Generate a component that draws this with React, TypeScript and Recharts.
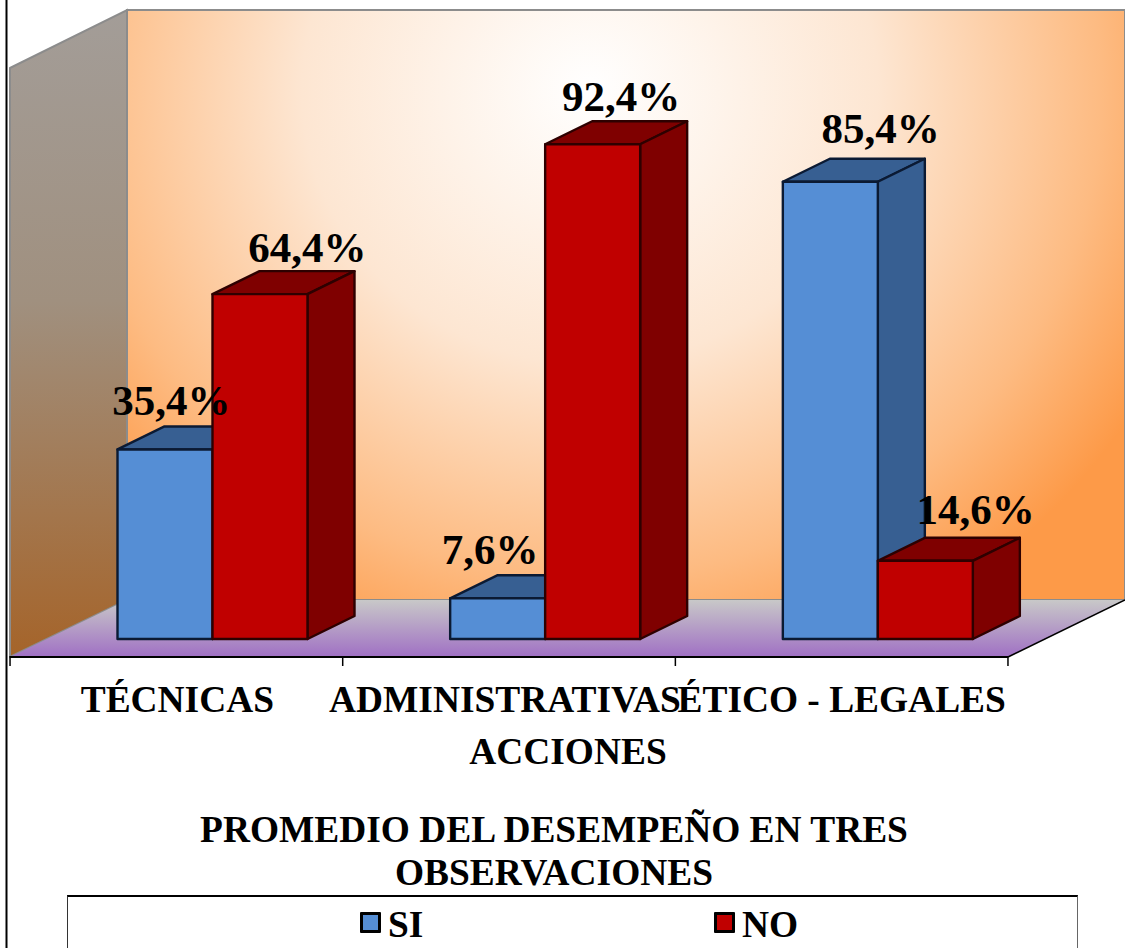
import { ComposedChart, Bar, Line, XAxis, YAxis, Legend, Customized } from 'recharts';

const FONT = '"Liberation Serif", serif';

const categories = ['TÉCNICAS', 'ADMINISTRATIVAS', 'ÉTICO - LEGALES'];
const siValues = [35.4, 7.6, 85.4];
const noValues = [64.4, 92.4, 14.6];

const data = categories.map((name, i) => ({ name, SI: siValues[i], NO: noValues[i] }));

// label nudges
const siLabelOffset = [[-5, -33], [-19, -33], [39, -38]];
const noLabelOffset = [[131, -31], [112, -32], [134, -36]];
const tickNudge = [1, -4, 0];

// the 3D look: bars sit back from the front edge of the floor
const SHIFT_X = 36;
const SHIFT_Y = -18;
const DEPTH_X = 47;
const DEPTH_Y = -23;

const fmt = (v: number) => v.toFixed(1).replace('.', ',') + '%';

function Box3D(props: any) {
  const { width, height, fill, side, edge } = props;
  const x = props.x + SHIFT_X;
  const y = props.y + SHIFT_Y;
  const r = x + width;
  const b = y + height;
  return (
    <g stroke={edge} strokeWidth={2.4} strokeLinejoin="round">
      <polygon points={`${x},${y} ${x + DEPTH_X},${y + DEPTH_Y} ${r + DEPTH_X},${y + DEPTH_Y} ${r},${y}`} fill={side} />
      <polygon points={`${r},${y} ${r + DEPTH_X},${y + DEPTH_Y} ${r + DEPTH_X},${b + DEPTH_Y} ${r},${b}`} fill={side} />
      <rect x={x} y={y} width={width} height={height} fill={fill} />
    </g>
  );
}

function Walls() {
  return (
    <g>
      <defs>
        <radialGradient id="backWall" gradientUnits="userSpaceOnUse" cx={590} cy={90} r={640} gradientTransform="translate(590 90) scale(1 0.95) translate(-590 -90)">
          <stop offset="0" stopColor="#FFFFFF" />
          <stop offset="0.45" stopColor="#FDE6D2" />
          <stop offset="0.8" stopColor="#FDBB82" />
          <stop offset="1" stopColor="#FD9A48" />
        </radialGradient>
        <linearGradient id="sideWall" x1="0" y1="0" x2="0" y2="1">
          <stop offset="0" stopColor="#A39D98" />
          <stop offset="0.45" stopColor="#A0907F" />
          <stop offset="1" stopColor="#A5642A" />
        </linearGradient>
        <linearGradient id="floor" x1="0" y1="0" x2="0" y2="1">
          <stop offset="0" stopColor="#C8C8C8" />
          <stop offset="1" stopColor="#A070C4" />
        </linearGradient>
      </defs>
      <line x1={6.5} y1={0} x2={6.5} y2={948} stroke="#000" strokeWidth={2} />
      <rect x={127} y={10} width={998} height={590} fill="url(#backWall)" stroke="#8C8C8C" strokeWidth={2} />
      <polygon points="10,68 127,10 127,600 10,657" fill="url(#sideWall)" stroke="#8C8C8C" strokeWidth={2} />
      <polygon points="10,657 127,600 1125,600 1008,657" fill="url(#floor)" />
      <line x1={1008} y1={657} x2={1125} y2={600} stroke="#000" strokeWidth={1.5} />
      <text x={554} y={842} textAnchor="middle" fontFamily={FONT} fontWeight="bold" fontSize={37.4} fill="#000">
        PROMEDIO DEL DESEMPEÑO EN TRES
      </text>
      <text x={554} y={885} textAnchor="middle" fontFamily={FONT} fontWeight="bold" fontSize={37.4} fill="#000">
        OBSERVACIONES
      </text>
    </g>
  );
}

function CategoryTick(props: any) {
  const { x, payload, index } = props;
  const half = 166.3;
  return (
    <g>
      <line x1={x - half} y1={656} x2={x - half} y2={666} stroke="#000" strokeWidth={1.5} />
      {index === categories.length - 1 && <line x1={x + half} y1={656} x2={x + half} y2={666} stroke="#000" strokeWidth={1.5} />}
      <text x={x + tickNudge[index]} y={712} textAnchor="middle" fontFamily={FONT} fontWeight="bold" fontSize={37.4} fill="#000">
        {payload.value}
      </text>
    </g>
  );
}

function makeValueLabel(offsets: number[][]) {
  return (props: any) => {
    const { x, y, value, index } = props;
    const [dx, dy] = offsets[index];
    return (
      <text key={index} x={x + dx} y={y - 19 + dy} textAnchor="middle" fontFamily={FONT} fontWeight="bold" fontSize={43} fill="#000">
        {fmt(value)}
      </text>
    );
  };
}

function LegendBox({ payload }: any) {
  const names = ['SI', 'NO'];
  const lefts = [292, 646];
  const items = names.map((n) => (payload || []).find((p: any) => p.value === n)).filter(Boolean);
  return (
    <div style={{ position: 'relative', width: 1011, height: 60, boxSizing: 'border-box', borderTop: '2px solid #000', borderLeft: '1.5px solid #333', borderRight: '1.5px solid #666' }}>
      {items.map((item: any, i: number) => (
        <div key={item.value} style={{ position: 'absolute', left: lefts[i], top: 0 }}>
          <span style={{ position: 'absolute', left: 0, top: 15, width: 15, height: 15, background: item.color, border: '3px solid #000', borderRadius: 1 }} />
          <span style={{ position: 'absolute', left: 28, top: 7, fontFamily: FONT, fontWeight: 'bold', fontSize: 37.4, lineHeight: '42px', color: '#000' }}>{item.value}</span>
        </div>
      ))}
    </div>
  );
}

export default function App() {
  return (
    <div style={{ position: 'absolute', left: 0, top: 0, width: 1125, height: 948, overflow: 'hidden', background: '#fff' }}>
      <ComposedChart
        width={1125}
        height={948}
        data={data}
        margin={{ top: 68, right: 117, bottom: 231, left: 10 }}
        barGap={0}
        barCategoryGap={71.5}
      >
        <Customized component={Walls} />
        <XAxis
          dataKey="name"
          height={60}
          interval={0}
          tickLine={false}
          axisLine={{ stroke: '#000', strokeWidth: 2 }}
          tick={<CategoryTick />}
          label={{
            content: () => (
              <text x={568} y={764} textAnchor="middle" fontFamily={FONT} fontWeight="bold" fontSize={37.4} fill="#000">
                ACCIONES
              </text>
            ),
          }}
        />
        <YAxis hide domain={[0, 110]} />
        <Legend
          layout="vertical"
          align="center"
          verticalAlign="middle"
          wrapperStyle={{ position: 'absolute', left: 67, top: 895, width: 1011, height: 60 }}
          content={<LegendBox />}
        />
        <Bar dataKey="SI" fill="#558ED5" isAnimationActive={false} shape={(p: any) => <Box3D {...p} fill="#558ED5" side="#375F92" edge="#0B1A33" />} />
        <Bar dataKey="NO" fill="#C00000" isAnimationActive={false} shape={(p: any) => <Box3D {...p} fill="#C00000" side="#7F0000" edge="#2E0000" />} />
        <Line dataKey="SI" stroke="none" dot={false} activeDot={false} legendType="none" isAnimationActive={false} label={makeValueLabel(siLabelOffset)} />
        <Line dataKey="NO" stroke="none" dot={false} activeDot={false} legendType="none" isAnimationActive={false} label={makeValueLabel(noLabelOffset)} />
      </ComposedChart>
    </div>
  );
}
